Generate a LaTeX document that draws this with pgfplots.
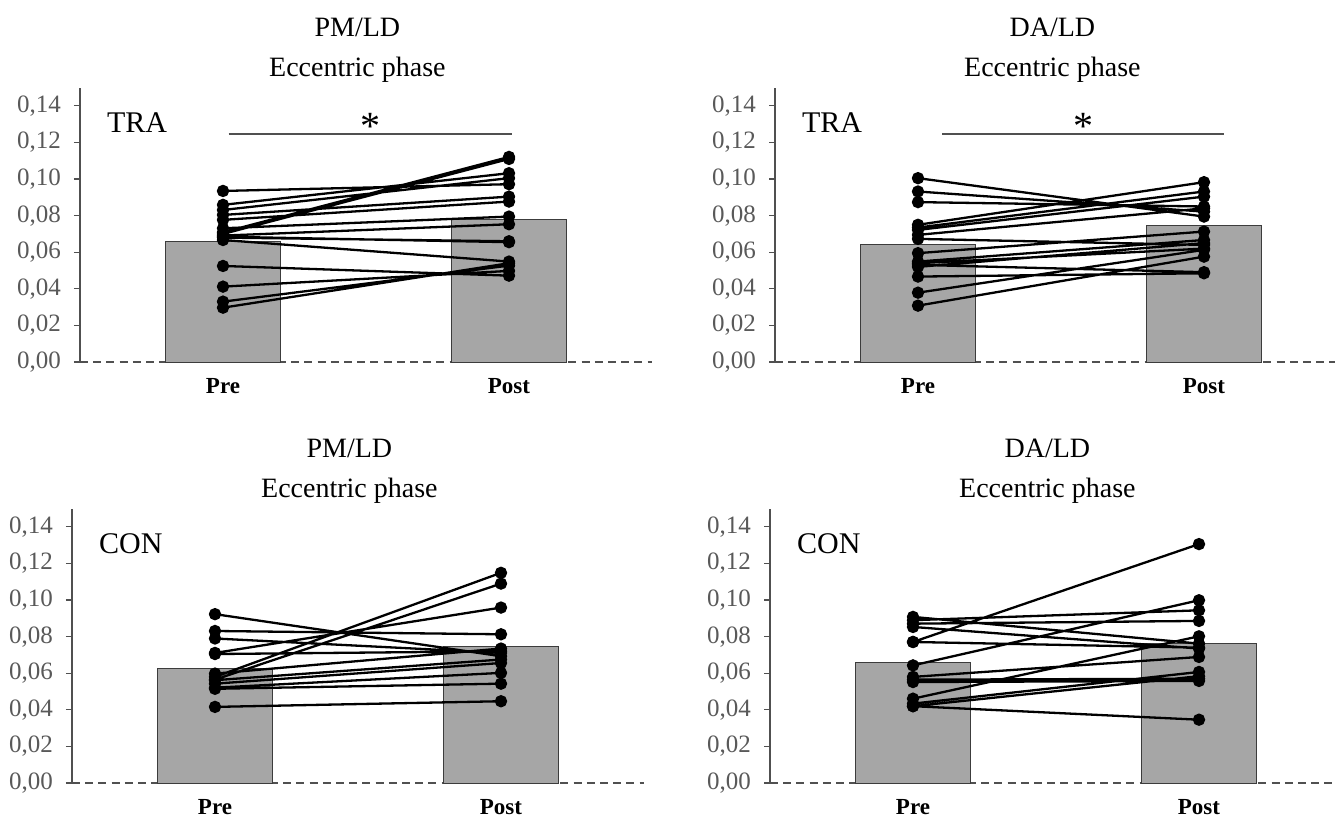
\documentclass[border=0pt]{standalone}
\usepackage{pgfplots}
\pgfplotsset{compat=1.18}
\usepackage{fontspec}
\setmainfont{Liberation Serif}
\definecolor{axgray}{RGB}{80,80,80}
\definecolor{lblgray}{RGB}{89,89,89}
\definecolor{barfill}{RGB}{166,166,166}
\definecolor{baredge}{RGB}{60,60,60}
\pgfplotsset{
  panel/.style={
    scale only axis, width=286pt, height=137.2pt,
    xmin=-0.5, xmax=1.5, ymin=0, ymax=0.15,
    axis y line*=left, axis x line*=bottom,
    x axis line style={draw=axgray, line width=0.6pt, dash pattern=on 4pt off 2.6pt},
    y axis line style={draw=axgray, line width=0.6pt},
    ytick={0,0.02,0.04,0.06,0.08,0.10,0.12,0.14},
    /pgf/number format/assume math mode=true,
    yticklabel style={/pgf/number format/fixed, /pgf/number format/fixed zerofill,
      /pgf/number format/precision=2, /pgf/number format/use comma,
      font=\fontsize{12.5}{14}\selectfont, text=lblgray, xshift=-3pt},
    xtick={0,1}, xticklabels={Pre,Post},
    xticklabel style={font=\fontsize{11.5}{13}\selectfont\bfseries, inner sep=0.3pt, yshift=-4.5pt},
    major x tick style={draw=none},
    tick align=outside, major tick length=3pt,
    ytick style={draw=axgray, line width=0.6pt},
    clip=false, unbounded coords=jump,
  },
  bars/.style={ybar, bar width=0.4, fill=barfill, draw=baredge, line width=0.5pt},
  subj/.style={black, line width=1.15pt, mark=*, mark size=2.5pt, mark options={solid, fill=black}},
}
\newcommand{\ttl}[2]{%
  \node[font=\fontsize{14}{16}\selectfont] at (axis cs:0.47,0.183) {#1};
  \node[font=\fontsize{14}{16}\selectfont] at (axis cs:0.47,0.1597) {Eccentric phase};
  \node[font=\fontsize{15}{17}\selectfont, anchor=west] at (axis cs:-0.43,0.131) {#2};}
\begin{document}
\begin{tikzpicture}
\useasboundingbox (0,0) rectangle (667.5pt,410.5pt);
% ---------------- TL: PM/LD TRA
\begin{axis}[panel, at={(40pt,229.5pt)}, anchor=south west]
\addplot[bars] coordinates {(0,0.066) (1,0.078)};
\addplot[subj] coordinates {
(0,0.0935) (1,0.0972) (0.5,nan)
(0,0.0859) (1,0.1032) (0.5,nan)
(0,0.0831) (1,0.1005) (0.5,nan)
(0,0.0804) (1,0.0904) (0.5,nan)
(0,0.0777) (1,0.0877) (0.5,nan)
(0,0.0731) (1,0.0795) (0.5,nan)
(0,0.0709) (1,0.1121) (0.5,nan)
(0,0.0700) (1,0.1110) (0.5,nan)
(0,0.0691) (1,0.0753) (0.5,nan)
(0,0.0680) (1,0.0660) (0.5,nan)
(0,0.0685) (1,0.0655) (0.5,nan)
(0,0.0667) (1,0.0549) (0.5,nan)
(0,0.0525) (1,0.0472) (0.5,nan)
(0,0.0412) (1,0.0498) (0.5,nan)
(0,0.0330) (1,0.0527) (0.5,nan)
(0,0.0297) (1,0.0540)
};
\ttl{PM/LD}{TRA}
\draw[axgray, line width=0.8pt] (axis cs:0.02,0.1247) -- (axis cs:1.01,0.1247);
\node[font=\fontsize{20}{22}\selectfont, anchor=base] at (axis cs:0.515,0.1215) {*};
\end{axis}
% ---------------- TR: DA/LD TRA
\begin{axis}[panel, at={(387.5pt,229.5pt)}, anchor=south west]
\addplot[bars] coordinates {(0,0.064) (1,0.0744)};
\addplot[subj] coordinates {
(0,0.1005) (1,0.0795) (0.5,nan)
(0,0.0932) (1,0.0822) (0.5,nan)
(0,0.0874) (1,0.0850) (0.5,nan)
(0,0.0750) (1,0.0983) (0.5,nan)
(0,0.0735) (1,0.0932) (0.5,nan)
(0,0.0722) (1,0.0904) (0.5,nan)
(0,0.0695) (1,0.0840) (0.5,nan)
(0,0.0673) (1,0.0640) (0.5,nan)
(0,0.0595) (1,0.0713) (0.5,nan)
(0,0.0549) (1,0.0667) (0.5,nan)
(0,0.0540) (1,0.0620) (0.5,nan)
(0,0.0531) (1,0.0491) (0.5,nan)
(0,0.0520) (1,0.0650) (0.5,nan)
(0,0.0467) (1,0.0485) (0.5,nan)
(0,0.0379) (1,0.0613) (0.5,nan)
(0,0.0308) (1,0.0576)
};
\ttl{DA/LD}{TRA}
\draw[axgray, line width=0.8pt] (axis cs:0.084,0.1247) -- (axis cs:1.07,0.1247);
\node[font=\fontsize{20}{22}\selectfont, anchor=base] at (axis cs:0.577,0.1215) {*};
\end{axis}
% ---------------- BL: PM/LD CON
\begin{axis}[panel, at={(36pt,19pt)}, anchor=south west]
\addplot[bars] coordinates {(0,0.0625) (1,0.0745)};
\addplot[subj] coordinates {
(0,0.0923) (1,0.0693) (0.5,nan)
(0,0.0831) (1,0.0813) (0.5,nan)
(0,0.0790) (1,0.0711) (0.5,nan)
(0,0.0711) (1,0.0959) (0.5,nan)
(0,0.0705) (1,0.0720) (0.5,nan)
(0,0.0580) (1,0.1149) (0.5,nan)
(0,0.0565) (1,0.1090) (0.5,nan)
(0,0.0598) (1,0.0735) (0.5,nan)
(0,0.0562) (1,0.0675) (0.5,nan)
(0,0.0543) (1,0.0656) (0.5,nan)
(0,0.0521) (1,0.0602) (0.5,nan)
(0,0.0515) (1,0.0543) (0.5,nan)
(0,0.0416) (1,0.0447)
};
\ttl{PM/LD}{CON}
\end{axis}
% ---------------- BR: DA/LD CON
\begin{axis}[panel, at={(385pt,19pt)}, anchor=south west]
\addplot[bars] coordinates {(0,0.066) (1,0.0765)};
\addplot[subj] coordinates {
(0,0.0908) (1,0.0762) (0.5,nan)
(0,0.0890) (1,0.0944) (0.5,nan)
(0,0.0871) (1,0.0886) (0.5,nan)
(0,0.0853) (1,0.0735) (0.5,nan)
(0,0.0771) (1,0.1306) (0.5,nan)
(0,0.0771) (1,0.0740) (0.5,nan)
(0,0.0643) (1,0.0999) (0.5,nan)
(0,0.0580) (1,0.0689) (0.5,nan)
(0,0.0565) (1,0.0570) (0.5,nan)
(0,0.0552) (1,0.0558) (0.5,nan)
(0,0.0461) (1,0.0802) (0.5,nan)
(0,0.0434) (1,0.0607) (0.5,nan)
(0,0.0420) (1,0.0584) (0.5,nan)
(0,0.0420) (1,0.0346)
};
\ttl{DA/LD}{CON}
\end{axis}
\end{tikzpicture}
\end{document}
